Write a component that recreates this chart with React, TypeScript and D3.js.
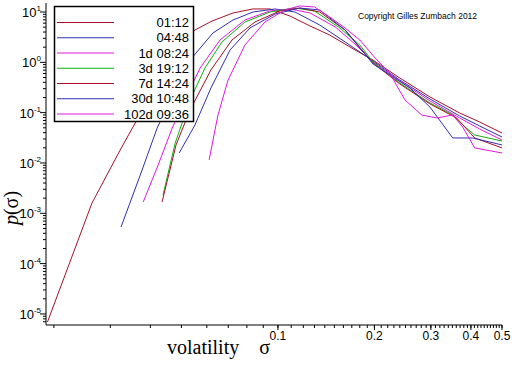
import * as d3 from 'd3'

const W = 512
const H = 366
const M = { top: 3, right: 10, bottom: 41, left: 46 }

// [sigma, p(sigma)]
const s0112 = [
  [0.0191, 6.9e-6], [0.0263, 0.0016], [0.0322, 0.0181], [0.0353, 0.0519], [0.0438, 0.614],
  [0.0495, 2.21], [0.0551, 4.39], [0.0623, 6.63], [0.0724, 9.55], [0.0836, 11.5],
  [0.0944, 11.5], [0.109, 8.33], [0.126, 5.27], [0.145, 3.49], [0.174, 1.76],
  [0.198, 1.11], [0.24, 0.488], [0.298, 0.205], [0.369, 0.0984], [0.426, 0.0652], [0.5, 0.0394],
]
const s0448 = [
  [0.0324, 0.000535], [0.0372, 0.00577], [0.042, 0.0495], [0.0478, 0.282], [0.0532, 1.11],
  [0.0627, 3.83], [0.0724, 6.93], [0.0836, 10], [0.0979, 11.5], [0.113, 10],
  [0.135, 5.52], [0.162, 2.54], [0.198, 1.063], [0.24, 0.445], [0.298, 0.187],
  [0.369, 0.0859], [0.426, 0.0543], [0.5, 0.0328],
]
const s1d0824 = [
  [0.038, 0.00168], [0.0423, 0.00912], [0.0468, 0.0495], [0.0517, 0.205], [0.0572, 0.771],
  [0.066, 2.78], [0.0789, 6.93], [0.0944, 10.5], [0.109, 11.5], [0.126, 9.55],
  [0.151, 5.03], [0.174, 2.31], [0.198, 1.015], [0.24, 0.426], [0.298, 0.171],
  [0.369, 0.0783], [0.426, 0.0473], [0.5, 0.0286],
]
const s3d1912 = [
  [0.0438, 0.00231], [0.0478, 0.0249], [0.0532, 0.179], [0.0592, 0.771], [0.0669, 2.54],
  [0.0789, 6.33], [0.0944, 10], [0.113, 12], [0.13, 10.5], [0.156, 4.81],
  [0.18, 2.21], [0.198, 1.015], [0.24, 0.388], [0.298, 0.156], [0.351, 0.0898],
  [0.377, 0.0569], [0.411, 0.036], [0.5, 0.0273],
]
const s7d1424 = [
  [0.0435, 0.00168], [0.0481, 0.0228], [0.0532, 0.113], [0.0618, 0.705], [0.0719, 2.78],
  [0.0848, 6.33], [0.1014, 10.5], [0.117, 12], [0.135, 10], [0.162, 4.39],
  [0.198, 0.97], [0.24, 0.371], [0.298, 0.149], [0.361, 0.0783], [0.411, 0.0314], [0.5, 0.0199],
]
const s30d1048 = [
  [0.0492, 0.0158], [0.0551, 0.0569], [0.0618, 0.309], [0.0709, 1.76], [0.0818, 4.81],
  [0.0979, 9.12], [0.117, 12], [0.135, 10.96], [0.162, 4.39], [0.198, 0.927],
  [0.231, 0.488], [0.258, 0.309], [0.298, 0.129], [0.351, 0.0314], [0.405, 0.0314], [0.5, 0.0228],
]
const s102d0936 = [
  [0.061, 0.0115], [0.065, 0.0898], [0.0699, 0.445], [0.0789, 2.21], [0.0911, 6.33],
  [0.105, 10.96], [0.117, 13.2], [0.13, 12.6], [0.145, 7.96], [0.162, 4.81],
  [0.18, 2.78], [0.201, 1.22], [0.223, 0.614], [0.249, 0.179], [0.281, 0.0898],
  [0.313, 0.0783], [0.351, 0.0898], [0.377, 0.0519], [0.411, 0.0199], [0.5, 0.0158],
]

const SERIES = [
  { label: '01:12', color: '#a8102a', data: s0112 },
  { label: '04:48', color: '#3030b4', data: s0448 },
  { label: '1d 08:24', color: '#e018e0', data: s1d0824 },
  { label: '3d 19:12', color: '#10b010', data: s3d1912 },
  { label: '7d 14:24', color: '#a8102a', data: s7d1424 },
  { label: '30d 10:48', color: '#3030b4', data: s30d1048 },
  { label: '102d 09:36', color: '#e018e0', data: s102d0936 },
]

const X_LABELS = [0.1, 0.2, 0.3, 0.4, 0.5]
const Y_DECADES = [1, 0, -1, -2, -3, -4, -5]

const sans = 'Liberation Sans, Arial, sans-serif'
const serif = 'Liberation Serif, Times New Roman, serif'

export default function App() {
  const x = d3.scaleLog().domain([0.0189, 0.5]).range([M.left, W - M.right])
  const y = d3.scaleLog().domain([6.03e-6, 15.1]).range([H - M.bottom, M.top])
  const line = d3
    .line<number[]>()
    .x((d) => x(d[0]))
    .y((d) => y(d[1]))

  const [y0, y1] = y.domain()
  const yMinor: number[] = []
  for (let e = -6; e <= 1; e++) {
    for (let k = 2; k <= 9; k++) {
      const v = k * Math.pow(10, e)
      if (v >= y0 && v <= y1) yMinor.push(v)
    }
  }
  const xMinor: number[] = []
  for (let i = 2; i <= 50; i++) xMinor.push(i / 100)

  const base = H - M.bottom

  return (
    <svg width={W} height={H} style={{ position: 'absolute', left: 0, top: 0, background: '#fff' }}>
      {/* y axis */}
      <line x1={M.left} x2={M.left} y1={base} y2={M.top} stroke="#000" />
      {yMinor.map((t) => (
        <line key={`ym${t}`} x1={M.left - 3} x2={M.left} y1={y(t)} y2={y(t)} stroke="#000" />
      ))}
      {Y_DECADES.map((e) => (
        <g key={`yd${e}`}>
          <line x1={M.left - 6} x2={M.left} y1={y(Math.pow(10, e))} y2={y(Math.pow(10, e))} stroke="#000" />
          <text x={41} y={y(Math.pow(10, e)) + 5} textAnchor="end" fontFamily={sans} fontSize={13}>
            <tspan>10</tspan>
            <tspan dy={-6} fontSize={8}>{e < 0 ? `-${-e}` : e}</tspan>
          </text>
        </g>
      ))}

      {/* x axis */}
      <line x1={M.left} x2={W - M.right} y1={base} y2={base} stroke="#000" />
      {xMinor.map((t) => (
        <line key={`xm${t}`} x1={x(t)} x2={x(t)} y1={base} y2={base + 3} stroke="#000" />
      ))}
      {X_LABELS.map((t) => (
        <g key={`xl${t}`}>
          <line x1={x(t)} x2={x(t)} y1={base} y2={base + 5} stroke="#000" />
          <text x={x(t)} y={base + 15} textAnchor="middle" fontFamily={sans} fontSize={12}>
            {t}
          </text>
        </g>
      ))}

      {/* curves */}
      {SERIES.map((s) => (
        <path key={s.label} d={line(s.data) || ''} fill="none" stroke={s.color} strokeWidth={1} />
      ))}

      {/* legend */}
      <rect x={54.5} y={6.5} width={139} height={115} fill="#fff" stroke="#000" strokeWidth={1.5} />
      {SERIES.map((s, i) => (
        <g key={`lg${s.label}`}>
          <line x1={57} x2={114} y1={22.5 + i * 15.25} y2={22.5 + i * 15.25} stroke={s.color} />
          <text x={189} y={27 + i * 15.25} textAnchor="end" fontFamily={sans} fontSize={13}>
            {s.label}
          </text>
        </g>
      ))}

      <text x={358} y={19} fontFamily={sans} fontSize={8.5}>
        Copyright Gilles Zumbach 2012
      </text>

      <text x={167} y={354} fontFamily={serif} fontSize={20} xmlSpace="preserve">
        volatility{'    '}σ
      </text>
      <text
        transform="translate(18,208) rotate(-90)"
        textAnchor="middle"
        fontFamily={serif}
        fontSize={20}
      >
        <tspan fontStyle="italic">p</tspan>(σ)
      </text>
    </svg>
  )
}
